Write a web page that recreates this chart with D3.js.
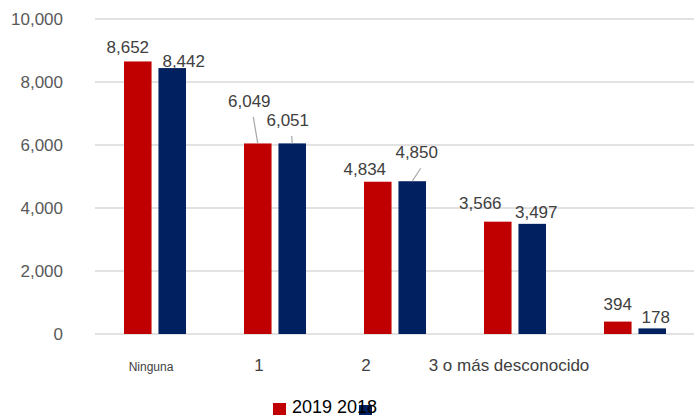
<!DOCTYPE html>
<html>
<head>
<meta charset="utf-8">
<script src="https://cdn.jsdelivr.net/npm/d3@7"></script>
<style>
  body { margin: 0; background: #fff; }
  text { font-family: "Liberation Sans", Arial, sans-serif; }
</style>
</head>
<body>
<div id="chart"></div>
<script>
// data
var categories = ["Ninguna", "1", "2", "3 o más", "desconocido"]
var series = ["2019", "2018"]
var values2019 = [8652, 6049, 4834, 3566, 394]
var values2018 = [8442, 6051, 4850, 3497, 178]
var yTicks = [0, 2000, 4000, 6000, 8000, 10000]
// the x labels as they appear under the axis
var xLabels = ["Ninguna", "1", "2", "3 o más desconocido"]

// layout (label nudges, as Excel left them)
var xLabelShift = [-4, -16, -29, -6]
var xLabelSize = [12, 17, 17, 17]
var labelNudge = {
  "2019": [[-10, -8.5], [-8.5, -36.5], [-13, -7], [-17.5, -13], [0, -11.6]],
  "2018": [[11.5, -1], [-4.5, -17.4], [4.5, -23], [4, -6], [3.5, -5.4]]
}
var colors = { "2019": "#C00000", "2018": "#002060" }

var W = 694, H = 415

var svg = d3.select("#chart").append("svg")
    .attr("width", W)
    .attr("height", H)

var x = d3.scaleBand().domain(categories).range([95, 695])
var xInner = d3.scaleBand().domain(series).range([-31, 31]).paddingInner(0.2)
var y = d3.scaleLinear().domain([0, 10000]).range([334, 19])

// gridlines + y tick labels
svg.selectAll(".grid")
    .data(yTicks)
  .enter().append("line")
    .attr("class", "grid")
    .attr("x1", 95).attr("x2", 694)
    .attr("y1", function(d){ return y(d) })
    .attr("y2", function(d){ return y(d) })
    .attr("stroke", "#d9d9d9")
    .attr("stroke-width", 1.3)

svg.selectAll(".ytick")
    .data(yTicks)
  .enter().append("text")
    .attr("class", "ytick")
    .attr("x", 63)
    .attr("y", function(d){ return y(d) + 6 })
    .attr("text-anchor", "end")
    .attr("font-size", 17)
    .attr("fill", "#595959")
    .text(d3.format(","))

// bars
var rows = categories.map(function(c, i){
  return { cat: c, i: i, vals: { "2019": values2019[i], "2018": values2018[i] } }
})

var group = svg.selectAll(".cat")
    .data(rows)
  .enter().append("g")
    .attr("class", "cat")
    .attr("transform", function(d){ return "translate(" + (x(d.cat) + x.bandwidth() / 2) + ",0)" })

var cells = group.selectAll(".bar")
    .data(function(d){
      return series.map(function(s){ return { s: s, v: d.vals[s], i: d.i } })
    })
  .enter()

cells.append("rect")
    .attr("class", "bar")
    .attr("x", function(d){ return xInner(d.s) })
    .attr("width", xInner.bandwidth())
    .attr("y", function(d){ return y(d.v) })
    .attr("height", function(d){ return y(0) - y(d.v) })
    .attr("fill", function(d){ return colors[d.s] })

// leader lines for labels pulled away from their bars
cells.filter(function(d){ return labelNudge[d.s][d.i][1] < -15 })
  .append("line")
    .attr("x1", function(d){ return xInner(d.s) + xInner.bandwidth() / 2 + labelNudge[d.s][d.i][0] + 4 })
    .attr("y1", function(d){ return y(d.v) + labelNudge[d.s][d.i][1] + 10 })
    .attr("x2", function(d){ return xInner(d.s) + xInner.bandwidth() / 2 })
    .attr("y2", function(d){ return y(d.v) })
    .attr("stroke", "#a6a6a6")
    .attr("stroke-width", 1.2)

cells.append("text")
    .attr("class", "vlabel")
    .attr("x", function(d){ return xInner(d.s) + xInner.bandwidth() / 2 + labelNudge[d.s][d.i][0] })
    .attr("y", function(d){ return y(d.v) + labelNudge[d.s][d.i][1] })
    .attr("text-anchor", "middle")
    .attr("font-size", 17)
    .attr("fill", "#404040")
    .text(function(d){ return d3.format(",")(d.v) })

// x labels
svg.selectAll(".xlabel")
    .data(xLabels)
  .enter().append("text")
    .attr("class", "xlabel")
    .attr("x", function(d, i){ return x(categories[i]) + x.bandwidth() / 2 + xLabelShift[i] })
    .attr("y", 371)
    .attr("text-anchor", "middle")
    .attr("font-size", function(d, i){ return xLabelSize[i] })
    .attr("fill", "#404040")
    .text(function(d){ return d })

// legend (overlapping, as in the original)
var legend = svg.append("g").attr("class", "legend")
legend.append("rect")
    .attr("x", 273).attr("y", 403).attr("width", 13).attr("height", 13)
    .attr("fill", colors["2019"])
legend.append("rect")
    .attr("x", 359).attr("y", 405).attr("width", 13).attr("height", 13)
    .attr("fill", colors["2018"])
legend.append("text")
    .attr("x", 292).attr("y", 413)
    .attr("font-size", 18)
    .attr("fill", "#000")
    .text(series.join(" "))
</script>
</body>
</html>
